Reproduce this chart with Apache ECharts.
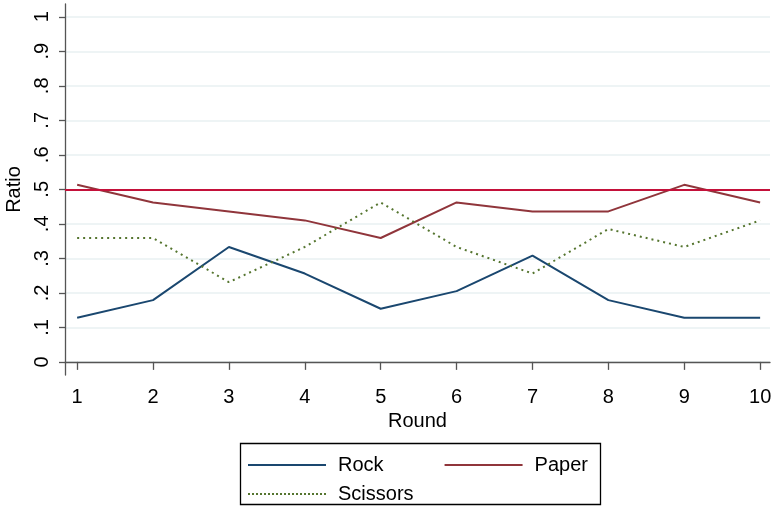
<!DOCTYPE html>
<html>
<head>
<meta charset="utf-8">
<script src="https://cdn.jsdelivr.net/npm/echarts@6/dist/echarts.min.js"></script>
<style>
html,body{margin:0;padding:0;background:#fff;}
#chart{width:776px;height:510px;}
</style>
</head>
<body>
<div id="chart"></div>
<script>
const rounds = [1, 2, 3, 4, 5, 6, 7, 8, 9, 10];
const rock = [0.128, 0.179, 0.333, 0.256, 0.154, 0.205, 0.308, 0.179, 0.128, 0.128];
const paper = [0.513, 0.462, 0.436, 0.410, 0.359, 0.462, 0.436, 0.436, 0.513, 0.462];
const scissors = [0.359, 0.359, 0.231, 0.333, 0.462, 0.333, 0.256, 0.385, 0.333, 0.410];
const refValue = 0.5;
const yTicks = [0, 0.1, 0.2, 0.3, 0.4, 0.5, 0.6, 0.7, 0.8, 0.9, 1];
const xTicks = [1, 2, 3, 4, 5, 6, 7, 8, 9, 10];

const FONT = 'Liberation Sans, Arial, sans-serif';
const FS = 20;
const pair = (xs, ys) => xs.map((x, i) => [x, ys[i]]);
const fmtY = v => {
  const r = Math.round(v * 10) / 10;
  if (r === 0) return '0';
  if (r === 1) return '1';
  return String(r).replace(/^0/, '');
};

// legend icons: a solid bar and a dotted bar (78 x 2)
const solidIcon = 'path://M0,0 H78 V2 H0 Z';
let dots = '';
for (let x = 0; x + 2 <= 78; x += 4) dots += `M${x},0 H${x + 2} V2 H${x} Z `;
const dottedIcon = 'path://' + dots.trim();

const chart = echarts.init(document.getElementById('chart'), null, {renderer: 'canvas'});
chart.setOption({
  animation: false,
  backgroundColor: '#ffffff',
  textStyle: {fontFamily: FONT},
  grid: {left: 65, right: 6, top: 4, bottom: 135, containLabel: false, outerBoundsMode: 'none'},
  xAxis: {
    type: 'value', min: 0.84, max: 10.13,
    name: 'Round', nameLocation: 'middle', nameGap: 32,
    nameTextStyle: {fontSize: FS, color: '#000', fontFamily: FONT},
    axisLine: {show: true, lineStyle: {color: '#555', width: 1.3}},
    axisTick: {show: true, length: 8, lineStyle: {color: '#555', width: 1.3}, customValues: xTicks},
    axisLabel: {fontSize: FS, color: '#000', margin: 12, fontFamily: FONT, customValues: xTicks, formatter: v => String(Math.round(v))},
    splitLine: {show: false}
  },
  yAxis: {
    type: 'value', min: -0.038, max: 1.037,
    name: 'Ratio', nameLocation: 'middle', nameGap: 33, nameRotate: 90,
    nameTextStyle: {fontSize: FS, color: '#000', fontFamily: FONT},
    axisLine: {show: true, lineStyle: {color: '#555', width: 1.3}},
    axisTick: {show: true, length: 6, lineStyle: {color: '#555', width: 1.3}, customValues: yTicks},
    axisLabel: {fontSize: FS, color: '#000', margin: 13, rotate: 90, fontFamily: FONT, customValues: yTicks, formatter: fmtY},
    splitLine: {show: true, lineStyle: {color: '#e8f0f2', width: 1.5}}
  },
  legend: [
    {
      data: [{name: 'Rock', icon: solidIcon}, {name: 'Paper', icon: solidIcon}],
      left: 243, top: 450, itemWidth: 78, itemHeight: 2, itemGap: 61,
      symbolKeepAspect: false,
      textStyle: {fontSize: FS, color: '#000', fontFamily: FONT, padding: [0, 0, 0, 7]}
    },
    {
      data: [{name: 'Scissors', icon: dottedIcon}],
      left: 243, top: 479, itemWidth: 78, itemHeight: 2, itemGap: 61,
      symbolKeepAspect: false,
      textStyle: {fontSize: FS, color: '#000', fontFamily: FONT, padding: [0, 0, 0, 7]}
    }
  ],
  graphic: [{
    type: 'rect', left: 238, top: 441, shape: {width: 360, height: 61},
    style: {fill: 'none', stroke: '#000', lineWidth: 1.3}, silent: true
  }],
  series: [
    {
      name: 'Rock', type: 'line', data: pair(rounds, rock), symbol: 'none',
      lineStyle: {color: '#1a476f', width: 2}, itemStyle: {color: '#1a476f'}, z: 3
    },
    {
      name: 'Paper', type: 'line', data: pair(rounds, paper), symbol: 'none',
      lineStyle: {color: '#90353b', width: 2}, itemStyle: {color: '#90353b'}, z: 3,
      markLine: {
        silent: true, symbol: ['none', 'none'], label: {show: false},
        lineStyle: {color: '#c4113a', width: 2, type: 'solid'},
        emphasis: {disabled: true},
        data: [{yAxis: refValue}]
      }
    },
    {
      name: 'Scissors', type: 'line', data: pair(rounds, scissors), symbol: 'none',
      lineStyle: {color: '#55752f', width: 2, type: [2, 4]}, itemStyle: {color: '#55752f'}, z: 3
    }
  ]
});
</script>
</body>
</html>
